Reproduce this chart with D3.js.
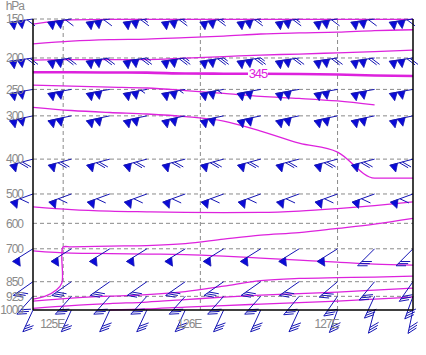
<!DOCTYPE html>
<html>
<head>
<meta charset="utf-8">
<script src="https://cdn.jsdelivr.net/npm/d3@7"></script>
<style>
body { margin: 0; background: #fff; }
text { font-family: "Liberation Sans", Arial, sans-serif; }
</style>
</head>
<body>
<script>
const margin = {top: 19, right: 13, bottom: 45, left: 33}
const width = 426 - margin.left - margin.right
const height = 355 - margin.top - margin.bottom

// pressure levels (hPa) and longitudes of the section points
const levels = [150, 200, 250, 300, 400, 500, 600, 700, 850, 925, 1000]
const levelLabels = ['150', '200', '250', '300', '400', '500', '600', '700', '850', '925', '1000']
const stationLon = [124.78, 125.06, 125.34, 125.61, 125.89, 126.17, 126.44, 126.72, 127.00, 127.27, 127.55]
const lonTicks = [125, 126, 127]
const lonLabels = ['125E', '126E', '127E']

// wind barbs : direction (deg) and speed (kt), one row per level
const barbLevels = [150, 200, 250, 300, 400, 500, 700, 850, 925, 1000]
const windDir = [
	[262, 262, 262, 262, 262, 262, 262, 262, 262, 262, 262],
	[262, 262, 262, 262, 262, 262, 262, 262, 262, 262, 262],
	[260, 260, 260, 260, 260, 260, 260, 260, 260, 260, 260],
	[258, 258, 258, 258, 258, 258, 258, 258, 258, 258, 258],
	[255, 255, 255, 255, 255, 255, 255, 255, 255, 255, 255],
	[250, 250, 250, 250, 250, 250, 250, 250, 250, 250, 250],
	[238, 238, 238, 238, 238, 238, 238, 238, 238, 225, 225],
	[235, 235, 235, 235, 235, 235, 235, 235, 230, 220, 215],
	[222, 222, 222, 222, 222, 222, 222, 220, 215, 205, 200],
	[205, 205, 205, 205, 205, 205, 205, 205, 200, 195, 192]
]
const windSpd = [
	[110, 110, 110, 115, 115, 115, 115, 115, 110, 110, 110],
	[120, 120, 120, 125, 125, 125, 125, 120, 120, 120, 120],
	[100, 100, 100, 105, 105, 105, 100, 100, 100, 100, 100],
	[100, 100, 100, 100, 100, 100, 100, 100, 100, 100, 100],
	[70, 70, 70, 70, 70, 70, 70, 70, 70, 70, 70],
	[60, 60, 60, 60, 60, 60, 60, 60, 60, 60, 60],
	[50, 50, 50, 50, 50, 50, 50, 50, 50, 30, 30],
	[30, 30, 30, 30, 30, 30, 30, 30, 30, 30, 30],
	[30, 30, 30, 30, 30, 30, 30, 30, 30, 30, 30],
	[25, 25, 30, 30, 30, 30, 30, 30, 30, 30, 30]
]

// isentropes: pressure (hPa) of each line at each section point
const isoA = [156, 151, 150.5, 150.5, 150.5, 150.5, 150.5, 150.5, 150.5, 150.5, 150.5]
const isoB = [180.4, 176.8, 174.9, 174.2, 172.3, 170.4, 167.8, 166.5, 165.6, 163.6, 162.6]
const isoC = [203, 202.3, 202.3, 202.3, 200.2, 198, 195.8, 194.4, 192.6, 190.9, 188.8]
const iso345 = [221.6, 221.6, 221.9, 222.2, 223.5, 223.8, 224, 224.3, 225.1, 226.7, 227.5]
const isoE = [242.5, 244.2, 245.9, 247.6, 252, 257.2, 262.6, 266.2, 270.9, 278.5, null]
const isoF = [283, 289.2, 293.2, 296.2, 301.4, 310.7, 332.3, 360, 382, 452, 452]
const isoG = [541.7, 551.1, 556.3, 558.8, 560.9, 561.6, 560.9, 556.3, 547.7, 537.7, 525.6]
const isoI = [708.4, 718.2, 720.4, 722.5, 724.6, 731.2, 739.9, 748.8, 757.8, 766.8, 771.3]
const isoJ = [950.5, 934.5, 923.8, 915.9, 900.2, 872, 844.7, 834, 830.1, 827.5, 822.6]
const isoK = [990.6, 975.2, 964.3, 956, 942.5, 929.1, 918.5, 910.6, 902.8, 892.4, 882.2]
const isoL = [null, null, 1000, 994.3, 983.5, 975.2, 967, 958.7, 950.5, 939.8, 929.1]
// the line that folds down near the west end: [lon, hPa]
const isoH = [[124.78, 940], [124.87, 924], [124.95, 892], [124.99, 857], [124.99, 727],
	[125.0, 693], [125.06, 692], [125.34, 688.8], [125.61, 686.7], [125.89, 678.5],
	[126.17, 660.2], [126.44, 644.4], [126.72, 634.8], [127.00, 618.7], [127.27, 602.7], [127.55, 582]]
const label345 = {lon: 126.42, text: '345'}

const x = d3.scaleLinear().domain(d3.extent(stationLon)).range([0, width])
const y = d3.scalePow().exponent(0.15).domain([150, 1000]).range([0, height])

const gray = '#8a8a8a'
const magenta = '#dd22dd'
const blue = '#1414b4'

const svg = d3.select('body').append('svg')
	.attr('width', width + margin.left + margin.right)
	.attr('height', height + margin.top + margin.bottom)
.append('g')
	.attr('transform', 'translate(' + margin.left + ',' + margin.top + ')')

// dashed grid
svg.append('g').selectAll('line')
	.data(levels.slice(0, -1))
	.enter().append('line')
		.attr('x1', 0).attr('x2', width)
		.attr('y1', d => y(d)).attr('y2', d => y(d))
		.attr('stroke', gray).attr('stroke-dasharray', '4,3')

svg.append('g').selectAll('line')
	.data(lonTicks)
	.enter().append('line')
		.attr('x1', d => x(d)).attr('x2', d => x(d))
		.attr('y1', 0).attr('y2', height)
		.attr('stroke', gray).attr('stroke-dasharray', '4,3')

// isentropes
const line = d3.line()
	.defined(d => d[1] != null)
	.x(d => x(d[0])).y(d => y(d[1]))
	.curve(d3.curveMonotoneX)

const isoLines = [isoA, isoB, isoC, isoE, isoF, isoG, isoI, isoJ, isoK, isoL]
svg.append('g').selectAll('path')
	.data(isoLines)
	.enter().append('path')
		.attr('d', d => line(d.map((p, i) => [stationLon[i], p])))
		.attr('fill', 'none').attr('stroke', magenta).attr('stroke-width', 1.3)

svg.append('path')
	.attr('d', d3.line().x(d => x(d[0])).y(d => y(d[1])).curve(d3.curveCatmullRom)(isoH))
	.attr('fill', 'none').attr('stroke', magenta).attr('stroke-width', 1.3)

svg.append('path')
	.attr('d', line(iso345.map((p, i) => [stationLon[i], p])))
	.attr('fill', 'none').attr('stroke', magenta).attr('stroke-width', 2.6)

const labY = y(d3.scaleLinear().domain(stationLon).range(iso345)(label345.lon))
svg.append('rect')
	.attr('x', x(label345.lon) - 10).attr('y', labY - 3)
	.attr('width', 20).attr('height', 6).attr('fill', '#fff')
svg.append('text')
	.attr('x', x(label345.lon)).attr('y', labY).attr('dy', '0.36em')
	.attr('text-anchor', 'middle')
	.style('font-size', '13px').style('letter-spacing', '-1px')
	.attr('fill', magenta)
	.text(label345.text)

// wind barbs
const staffLen = 24, featherLen = 10, flagW = 8, flagH = 8, barbGap = 3

function barbPaths(dir, spd) {
	const a = dir * Math.PI / 180
	const ux = Math.sin(a), uy = -Math.cos(a)
	const au = Math.atan2(uy, ux)
	const nx = Math.cos(au - Math.PI / 2), ny = Math.sin(au - Math.PI / 2)
	const af = au - 135 * Math.PI / 180
	const fx = Math.cos(af), fy = Math.sin(af)
	const pt = s => [ux * s, uy * s]
	const lines = d3.path(), flags = d3.path()
	lines.moveTo(0, 0)
	lines.lineTo(ux * staffLen, uy * staffLen)
	let s = staffLen
	let left = Math.round(spd / 5) * 5
	let hadFlag = false
	while (left >= 50) {
		const p1 = pt(s), p2 = pt(s - flagW), pm = pt(s - flagW / 2)
		flags.moveTo(p1[0], p1[1])
		flags.lineTo(pm[0] + nx * flagH, pm[1] + ny * flagH)
		flags.lineTo(p2[0], p2[1])
		flags.closePath()
		s -= flagW
		left -= 50
		hadFlag = true
	}
	if (hadFlag) s -= 2
	while (left >= 10) {
		const p = pt(s)
		lines.moveTo(p[0], p[1])
		lines.lineTo(p[0] + fx * featherLen, p[1] + fy * featherLen)
		s -= barbGap
		left -= 10
	}
	if (left >= 5) {
		const p = pt(s)
		lines.moveTo(p[0], p[1])
		lines.lineTo(p[0] + fx * featherLen / 2, p[1] + fy * featherLen / 2)
	}
	return {lines: lines.toString(), flags: flags.toString()}
}

const barbData = []
barbLevels.forEach((lev, i) => {
	stationLon.forEach((lon, j) => {
		barbData.push({lon: lon, lev: lev, dir: windDir[i][j], spd: windSpd[i][j]})
	})
})

const barbs = svg.append('g').selectAll('g')
	.data(barbData)
	.enter().append('g')
		.attr('transform', d => 'translate(' + x(d.lon) + ',' + y(d.lev) + ')')

barbs.each(function(d) {
	const p = barbPaths(d.dir, d.spd)
	const g = d3.select(this)
	g.append('path').attr('d', p.flags)
		.attr('fill', '#0a0ad8').attr('stroke', blue).attr('stroke-width', 0.8)
	g.append('path').attr('d', p.lines)
		.attr('fill', 'none').attr('stroke', blue).attr('stroke-width', 1)
})

// frame
svg.append('line').attr('x1', 0).attr('x2', 0).attr('y1', 0).attr('y2', height)
	.attr('stroke', '#000').attr('stroke-width', 1.5)
svg.append('line').attr('x1', width).attr('x2', width).attr('y1', 0).attr('y2', height)
	.attr('stroke', '#000').attr('stroke-width', 1.5)
svg.append('line').attr('x1', 0).attr('x2', width).attr('y1', height).attr('y2', height)
	.attr('stroke', '#000').attr('stroke-width', 1.5)

// labels
svg.append('g').selectAll('text')
	.data(levels)
	.enter().append('text')
		.attr('x', -10).attr('y', d => y(d)).attr('dy', '0.36em')
		.attr('text-anchor', 'end')
		.style('font-size', '12px').style('letter-spacing', '-1px')
		.attr('fill', gray)
		.text((d, i) => levelLabels[i])

svg.append('text')
	.attr('x', -9).attr('y', -9)
	.attr('text-anchor', 'end')
	.style('font-size', '12px').style('letter-spacing', '-1px')
	.attr('fill', gray)
	.text('hPa')

svg.append('g').selectAll('text')
	.data(lonTicks)
	.enter().append('text')
		.attr('x', d => x(d) + 1).attr('y', height + 18)
		.attr('text-anchor', 'end')
		.style('font-size', '12px').style('letter-spacing', '-1px')
		.attr('fill', gray)
		.text((d, i) => lonLabels[i])
</script>
</body>
</html>
